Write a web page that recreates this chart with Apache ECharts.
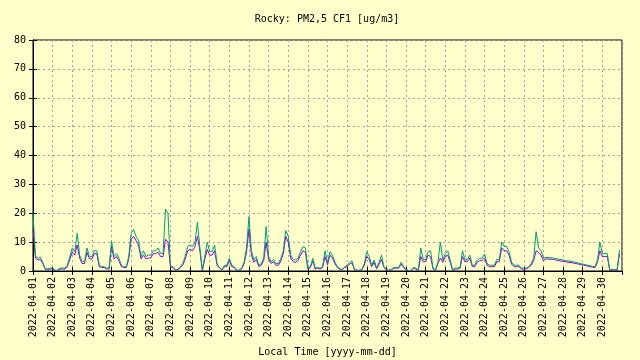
<!DOCTYPE html>
<html>
<head>
<meta charset="utf-8">
<script src="https://cdn.jsdelivr.net/npm/echarts@6/dist/echarts.min.js"></script>
<style>html,body{margin:0;padding:0;background:#ffffcc;}#c{width:640px;height:360px;}</style>
</head>
<body>
<div id="c"></div>
<script>
const dayLabels = ['2022-04-01','2022-04-02','2022-04-03','2022-04-04','2022-04-05','2022-04-06','2022-04-07','2022-04-08','2022-04-09','2022-04-10','2022-04-11','2022-04-12','2022-04-13','2022-04-14','2022-04-15','2022-04-16','2022-04-17','2022-04-18','2022-04-19','2022-04-20','2022-04-21','2022-04-22','2022-04-23','2022-04-24','2022-04-25','2022-04-26','2022-04-27','2022-04-28','2022-04-29','2022-04-30'];
const yTicks = [0,10,20,30,40,50,60,70,80];
// sample step in hours from 2022-04-01 00:00
const stepHours = 3;
// PM2.5 CF1, sensor channel B (green)
const pmGreen = [
20,5.2,4.4,4.8,3,0.8,0.7,1,
1,0.3,0.3,1,1,1,2,5,
8,6.7,13,5.5,3.2,3.2,8,5,
5,7,7,2,1.5,1.5,1,1,
10.4,5,6,4.4,2,1.5,1.5,5,
13,14.4,12,10.5,5,7,5,5.5,
5.5,7,7,8,6,6,21.4,20,
2,1.5,0.5,0.5,1.5,2.6,5,8.5,
9,8.5,10,16.9,8,0.3,5,10,
6.7,6.7,9,2.6,1.2,0.5,2,2,
4.4,2,1.5,0.3,0.3,1,3,8,
18.8,7,3.8,5,2,2.5,4.5,15.4,
5,3.2,4,2.6,2.6,4.4,7,14,
12,5.5,4,3.8,4.4,6.7,8.4,8,
1,1.5,4.4,1,1.2,1,1.5,7,
2.8,6.7,5.5,3.2,1.5,0.8,0.5,1.5,
2,3,3.5,0.5,0.3,0.3,0.5,2.6,
6.7,5,2,3.8,1,3,5.5,1.5,
0.5,0.3,0.5,1.2,1.2,1.2,3,1.5,
0.5,0.2,0.2,1.2,1,0.3,8,4,
4,6.7,7,1,0.3,3.2,10,3.8,
6,7,3.8,0.3,1,1,1.2,7,
4,4,5.5,2,2,3.8,4.4,4.4,
5.9,2.6,2,2,2,4,4,10,
8.5,8.5,6.7,3,2,2,2,1,
1,1,1.5,2.6,4.4,13.6,8,7,
4.4,4.7,null,null,4.5,null,null,null,
3.8,null,null,null,3.2,null,null,null,
2.4,null,null,null,1.6,1.5,3.8,10,
6,6,6,0.5,0.5,0.5,0.5,7.3
];
// PM2.5 CF1, sensor channel A (purple)
const pmPurple = [
14.5,4.5,3.8,4,2.5,0.6,0.5,0.7,
0.7,0.2,0.2,0.7,0.7,0.7,1.5,4,
6.5,5.5,9,4.5,2.6,2.6,6.5,4.2,
4.2,6,6,1.5,1.2,1.2,0.7,0.7,
8.5,4.2,5,3.6,1.5,1.2,1.2,4,
11,12,10.5,9,4.2,5.5,4.2,4.5,
4.5,6,6,6.5,5,5,11,10,
1.5,1.2,0.4,0.4,1.2,2,4,7,
7.5,7,8.5,12,7,0.2,4,7.5,
5.5,5.5,7,2,1,0.4,1.5,1.5,
3.5,1.5,1.2,0.2,0.2,0.7,2.5,6.5,
14.5,5.5,3,4,1.5,2,3.6,10,
4,2.6,3.2,2,2,3.5,6,12,
10,4.5,3.2,3,3.6,5.5,7,6.5,
0.7,1.2,3.5,0.7,1,0.7,1.2,5,
2.2,5.5,4.5,2.6,1.2,0.6,0.4,1.2,
1.5,2.4,2.8,0.4,0.2,0.2,0.4,2,
5,4,1.5,3,0.7,2.4,4,1.2,
0.4,0.2,0.4,1,1,1,2.4,1.2,
0.4,0.1,0.1,1,0.7,0.2,5,3.2,
3.2,5.5,5,0.7,0.2,2.6,4.5,3,
5,5.5,3,0.2,0.7,0.7,1,5,
3.2,3.2,4.5,1.5,1.5,3,3.6,3.6,
4.5,2,1.5,1.5,1.5,3.2,3.2,8,
7,7,5.5,2.4,1.5,1.5,1.5,0.7,
0.7,0.7,1.2,2,3.6,7,6.5,5.5,
3.6,4.2,null,null,4,null,null,null,
3.3,null,null,null,2.8,null,null,null,
2.1,null,null,null,1.3,1.2,3,7,
5,5,5,0.3,0.3,0.3,0.3,6
];

const font = 'DejaVu Sans Mono';
const toPairs = arr => arr.map((v, i) => [i * stepHours, v]);
const chart = echarts.init(document.getElementById('c'), null, {renderer: 'canvas'});
const axisCommon = {
  axisLine: {show: true, lineStyle: {color: '#000', width: 1}},
  axisTick: {show: true, inside: true, length: 4, lineStyle: {color: '#000'}}
};
const gridLine = {show: true, lineStyle: {color: '#a0a0a0', type: [2, 3], width: 1}};
chart.setOption({
  animation: false,
  backgroundColor: '#ffffcc',
  grid: {left: 33, right: 18, top: 40, bottom: 89, containLabel: false, outerBoundsMode: 'none',
    show: true, borderColor: '#000', borderWidth: 1, backgroundColor: '#ffffcc'},
  graphic: [{
    type: 'text', x: 327, y: 19,
    style: {text: 'Rocky: PM2,5 CF1 [ug/m3]', align: 'center', verticalAlign: 'middle', font: '10px "DejaVu Sans Mono"', fill: '#000'}
  }],
  xAxis: [{
    type: 'value', min: 0, max: dayLabels.length * 24, interval: 24,
    position: 'bottom',
    name: 'Local Time [yyyy-mm-dd]', nameLocation: 'middle', nameGap: 76,
    nameTextStyle: {fontFamily: font, fontSize: 10, color: '#000'},
    ...axisCommon,
    axisLabel: {
      rotate: 90, margin: 6, fontFamily: font, fontSize: 10, color: '#000',
      showMaxLabel: false,
      formatter: v => dayLabels[Math.round(v / 24)] || ''
    },
    splitLine: gridLine
  }, {
    type: 'value', min: 0, max: dayLabels.length * 24, interval: 24,
    position: 'top', ...axisCommon,
    axisLabel: {show: false}, splitLine: {show: false}
  }],
  yAxis: [{
    type: 'value', min: yTicks[0], max: yTicks[yTicks.length - 1], interval: 10,
    ...axisCommon,
    axisLabel: {margin: 7, fontFamily: font, fontSize: 10, color: '#000'},
    splitLine: gridLine
  }, {
    type: 'value', min: yTicks[0], max: yTicks[yTicks.length - 1], interval: 10,
    position: 'right', ...axisCommon,
    axisLabel: {show: false}, splitLine: {show: false}
  }],
  series: [{
    type: 'line', name: 'A', data: toPairs(pmPurple), showSymbol: false, connectNulls: true,
    lineStyle: {color: '#9400d3', width: 1}, itemStyle: {color: '#9400d3'}
  }, {
    type: 'line', name: 'B', data: toPairs(pmGreen), showSymbol: false, connectNulls: true,
    lineStyle: {color: '#009e73', width: 1}, itemStyle: {color: '#009e73'}
  }]
});
</script>
</body>
</html>
